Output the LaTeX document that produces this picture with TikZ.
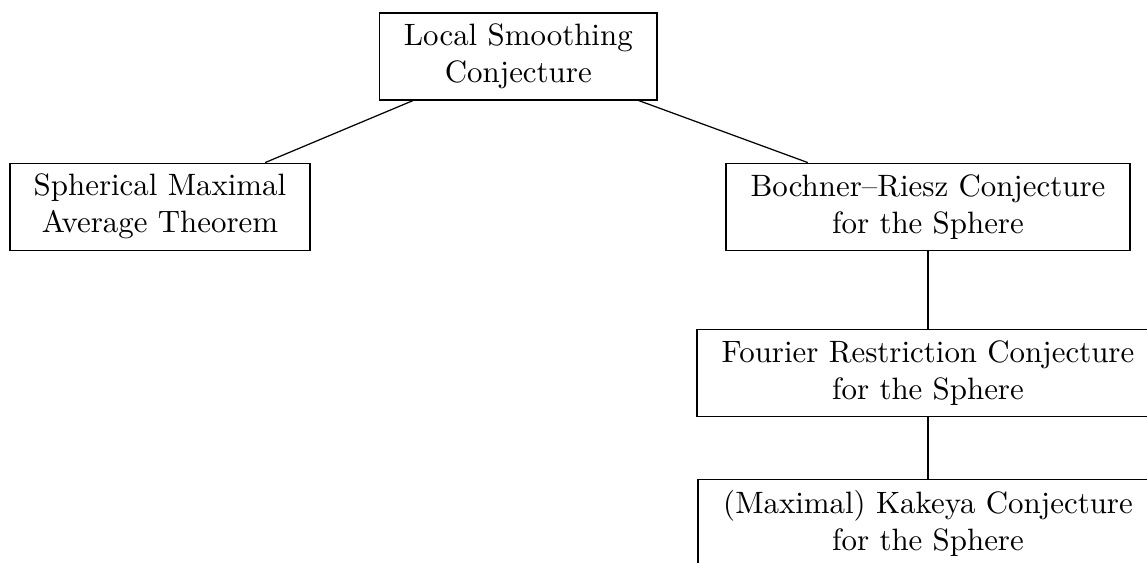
\documentclass[tikz,border=0pt]{standalone}
\begin{document}
\begin{tikzpicture}[x=0.3236pt,y=-0.3236pt,
  box/.style={draw, align=center, inner sep=0pt, line width=0.4pt, minimum height={87*0.3236pt}},
  link/.style={line width=0.4pt}]
\clip (0,0) rectangle (1147,563);
\node[box, minimum width={277.5*0.3236pt}] (ls) at (518.3,56.4) {Local Smoothing\\Conjecture};
\node[box, minimum width={300*0.3236pt}] (sm) at (160,206.7) {Spherical Maximal\\Average Theorem};
\node[box, minimum width={404*0.3236pt}] (br) at (928,206.7) {Bochner--Riesz Conjecture\\for the Sphere};
\node[box, minimum width={462*0.3236pt}] (fr) at (928,373) {Fourier Restriction Conjecture\\for the Sphere};
\node[box, minimum width={460*0.3236pt}] (kk) at (928,523) {(Maximal) Kakeya Conjecture\\for the Sphere};
\draw[link] (ls) -- (sm);
\draw[link] (ls) -- (br);
\draw[link] (br) -- (fr);
\draw[link] (fr) -- (kk);
\end{tikzpicture}
\end{document}
